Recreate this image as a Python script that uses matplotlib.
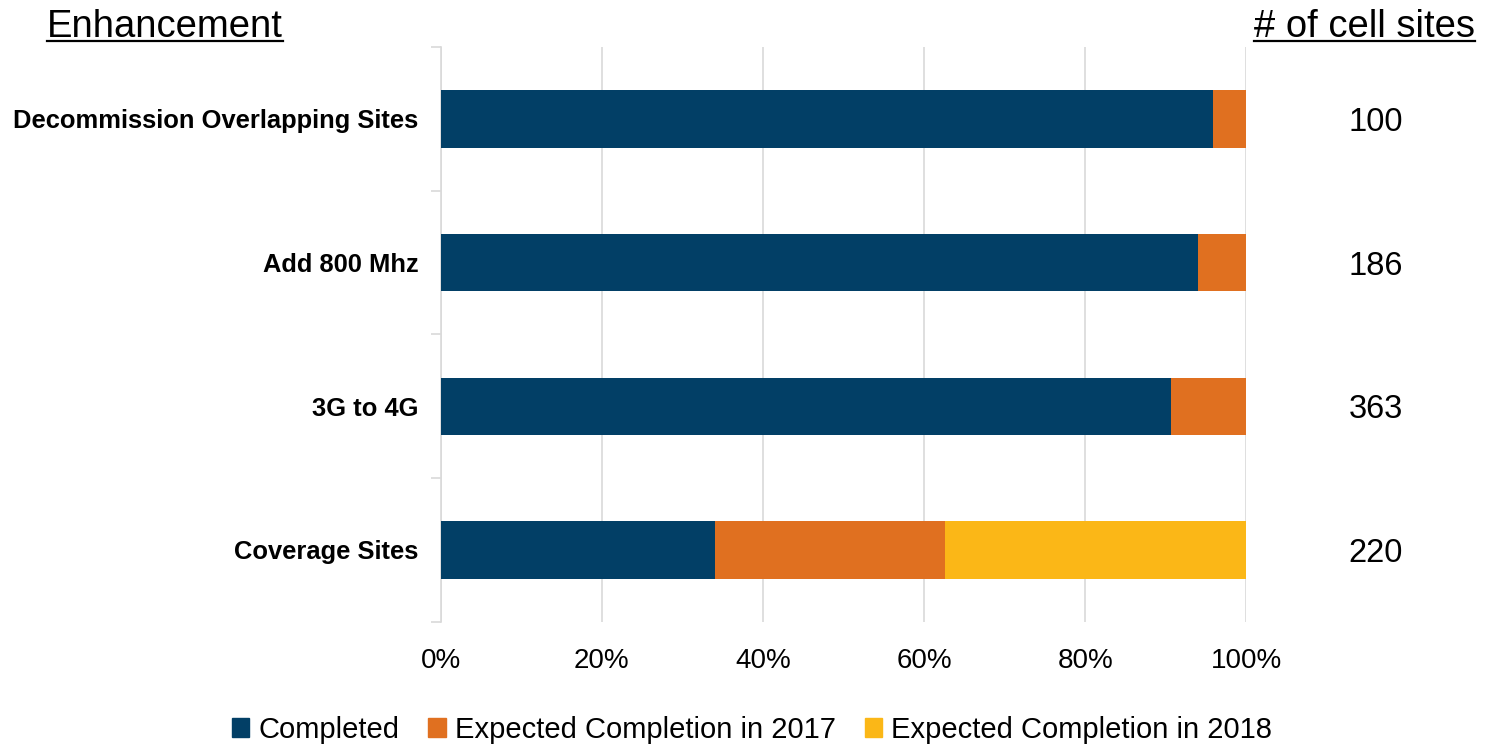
import matplotlib.pyplot as plt
from matplotlib.lines import Line2D
from matplotlib.transforms import blended_transform_factory
import numpy as np

plt.rcParams['font.family'] = ['Liberation Sans', 'DejaVu Sans']

# ---------------- data ----------------
categories = ["Decommission Overlapping Sites", "Add 800 Mhz", "3G to 4G", "Coverage Sites"]
completed = [95.9, 94.0, 90.6, 34.0]
expected_2017 = [4.1, 6.0, 9.4, 28.6]
expected_2018 = [0.0, 0.0, 0.0, 37.4]
cell_sites = [100, 186, 363, 220]
series_names = ["Completed", "Expected Completion in 2017", "Expected Completion in 2018"]
colors = ["#023F66", "#E07020", "#FBB717"]

# ---------------- figure ----------------
fig = plt.figure(figsize=(14.89, 7.49), dpi=100)
ax = fig.add_axes([0.296, 0.170, 0.541, 0.767])

y = np.arange(len(categories))[::-1]
left = np.zeros(len(categories))
for vals, name, c in zip([completed, expected_2017, expected_2018], series_names, colors):
    ax.barh(y, vals, left=left, height=0.4, color=c, label=name, zorder=3)
    left = left + np.array(vals)

ax.set_xlim(0, 100)
ax.set_ylim(-0.5, len(categories) - 0.5)
ax.set_xticks(np.arange(0, 101, 20))
ax.set_xticklabels([f"{v}%" for v in range(0, 101, 20)], fontsize=20)
ax.tick_params(axis='x', length=0, pad=19)
ax.set_yticks(y)
ax.set_yticklabels(categories, fontsize=18.4, fontweight='bold')
ax.tick_params(axis='y', length=0, pad=16)
# boundary ticks on the left axis
ax.set_yticks(np.arange(-0.5, len(categories), 1.0), minor=True)
ax.tick_params(axis='y', which='minor', length=7, color='#D9D9D9', width=1.2)

ax.grid(axis='x', color='#D9D9D9', linewidth=1.2, zorder=0)
for s in ['top', 'right', 'bottom']:
    ax.spines[s].set_visible(False)
ax.spines['left'].set_color('#D9D9D9')
ax.spines['left'].set_linewidth(1.2)

# cell site counts on the right
trans = blended_transform_factory(fig.transFigure, ax.transData)
for yi, n in zip(y, cell_sites):
    ax.text(1376 / 1489, yi, str(n), transform=trans, ha='center', va='center_baseline', fontsize=23.5)

# headers with underline
h1 = fig.text(47 / 1489, 1 - 27 / 749, "Enhancement", fontsize=27.5, ha='left', va='center')
h2 = fig.text(1475 / 1489, 1 - 27 / 749, "# of cell sites", fontsize=27.5, ha='right', va='center')
fig.canvas.draw()
inv = fig.transFigure.inverted()
for t in (h1, h2):
    bb = t.get_window_extent()
    (x0, y0), (x1, _) = inv.transform([(bb.x0, bb.y0), (bb.x1, bb.y1)])
    fig.add_artist(Line2D([x0, x1], [y0 + 0.005, y0 + 0.005], transform=fig.transFigure,
                          color='black', linewidth=1.6))

handles = [plt.Rectangle((0, 0), 1, 1, color=c) for c in colors]
fig.legend(handles, series_names, loc='center', bbox_to_anchor=(752 / 1489, 1 - 730 / 749),
           ncol=3, frameon=False, fontsize=21, handlelength=0.6, handleheight=0.6,
           handletextpad=0.3, columnspacing=1.0)

fig.savefig("out.png", dpi=100)
